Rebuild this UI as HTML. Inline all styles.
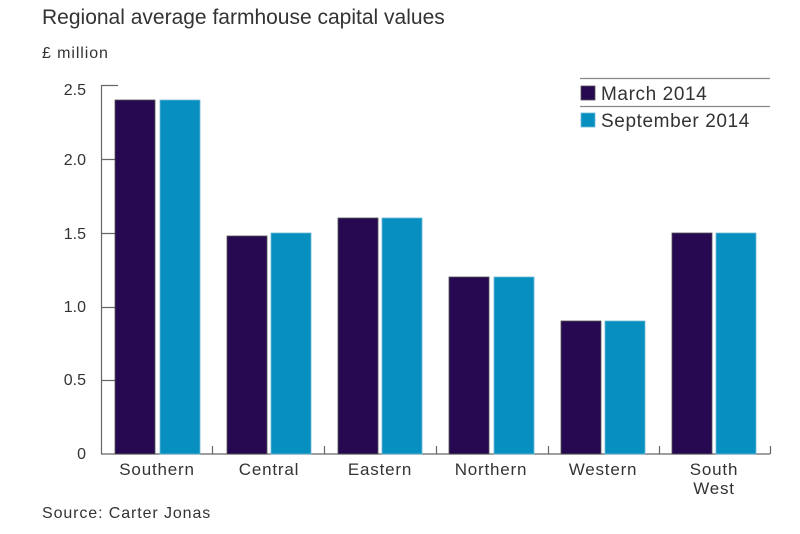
<!DOCTYPE html><html><head><style>body{margin:0;background:#fff}svg{display:block}text{font-family:"Liberation Sans",sans-serif;fill:#333}</style></head><body>
<svg width="800" height="534" xmlns="http://www.w3.org/2000/svg">
<text x="42" y="24" font-size="21" fill="#444">Regional average farmhouse capital values</text>
<text x="42" y="58" font-size="16" letter-spacing="0.9">£ million</text>
<g font-size="16" text-anchor="end">
<text x="86" y="95">2.5</text><text x="86" y="165">2.0</text><text x="86" y="239">1.5</text><text x="86" y="312">1.0</text><text x="86" y="385">0.5</text><text x="86" y="459">0</text></g>
<g stroke="#666" stroke-width="1.2" fill="none">
<path d="M101.5 85V454H770"/>
<path d="M101 85.5H118M101 159.5H118M101 233.5H118M101 307.5H118M101 380.5H118"/>
<path d="M212.5 454v-8M324.5 454v-8M436.5 454v-8M548.5 454v-8M659.5 454v-8M770.5 454v-8"/>
<path d="M580 78.5H770M580 106.5H770" stroke="#888"/>
</g>
<g stroke="#555" stroke-width="0.8">
<rect x="115" y="100" width="40" height="354" fill="#260950"/><rect x="160" y="100" width="40" height="354" fill="#0790bf" stroke="#6fb8d6"/>
<rect x="227" y="236" width="40" height="218" fill="#260950"/><rect x="271" y="233" width="40" height="221" fill="#0790bf" stroke="#6fb8d6"/>
<rect x="338" y="218" width="40" height="236" fill="#260950"/><rect x="382" y="218" width="40" height="236" fill="#0790bf" stroke="#6fb8d6"/>
<rect x="449" y="277" width="40" height="177" fill="#260950"/><rect x="494" y="277" width="40" height="177" fill="#0790bf" stroke="#6fb8d6"/>
<rect x="561" y="321" width="40" height="133" fill="#260950"/><rect x="605" y="321" width="40" height="133" fill="#0790bf" stroke="#6fb8d6"/>
<rect x="672" y="233" width="40" height="221" fill="#260950"/><rect x="716" y="233" width="40" height="221" fill="#0790bf" stroke="#6fb8d6"/>
<rect x="581" y="86" width="14" height="14" fill="#260950"/><rect x="581" y="113" width="14" height="14" fill="#0790bf" stroke="#6fb8d6"/>
</g>
<text x="601" y="100" font-size="19" letter-spacing="0.6">March 2014</text>
<text x="601" y="127" font-size="19" letter-spacing="0.6">September 2014</text>
<g font-size="17" text-anchor="middle" letter-spacing="0.8">
<text x="157" y="475">Southern</text><text x="269" y="475">Central</text><text x="380" y="475">Eastern</text><text x="491" y="475">Northern</text><text x="603" y="475">Western</text><text x="714" y="475">South</text><text x="714" y="494">West</text></g>
<text x="42" y="518" font-size="16" letter-spacing="0.9">Source: Carter Jonas</text>
</svg></body></html>
